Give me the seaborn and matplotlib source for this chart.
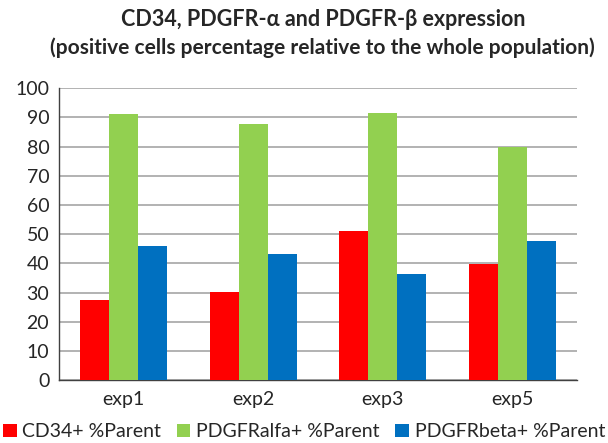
import numpy as np
import pandas as pd
import matplotlib
matplotlib.use("Agg")
import matplotlib.pyplot as plt
from matplotlib.patches import Patch
import seaborn as sns

experiments = ["exp1", "exp2", "exp3", "exp5"]
cd34 = [27.5, 30.3, 51.2, 39.9]
pdgfr_alfa = [91.0, 87.7, 91.6, 79.7]
pdgfr_beta = [46.0, 43.1, 36.4, 47.6]
series_names = ["CD34+ %Parent", "PDGFRalfa+ %Parent", "PDGFRbeta+ %Parent"]
series_colors = ["#FF0000", "#92D050", "#0070C0"]
y_ticks = list(range(0, 101, 10))

df = pd.DataFrame({
    "experiment": experiments * 3,
    "value": cd34 + pdgfr_alfa + pdgfr_beta,
    "series": [s for s in series_names for _ in experiments],
})

sns.set_style("white")
plt.rcParams["font.family"] = ["Lato", "DejaVu Sans"]

fig = plt.figure(figsize=(6.08, 4.43), dpi=100)
ax = fig.add_axes([0.097, 0.142, 0.852, 0.659])

sns.barplot(data=df, x="experiment", y="value", hue="series",
            palette=series_colors, width=0.67, saturation=1,
            linewidth=0, ax=ax, legend=False, zorder=3)

ax.set_ylim(0, 100)
ax.set_xlim(-0.5, len(experiments) - 0.5)
ax.set_yticks(y_ticks)
ax.set_yticklabels([str(t) for t in y_ticks], fontsize=14)
ax.yaxis.grid(True, color="#A6A6A6", linewidth=1.2, zorder=0)
ax.set_axisbelow(True)
ax.set_xlabel("")
ax.set_ylabel("")

for side in ["top", "right"]:
    ax.spines[side].set_visible(False)
for side in ["left", "bottom"]:
    ax.spines[side].set_color("#404040")
    ax.spines[side].set_linewidth(1.0)

# category labels centred, tick marks on the category boundaries
ax.set_xticks(np.arange(len(experiments)))
ax.set_xticklabels(experiments, fontsize=14)
ax.tick_params(axis="x", length=0, pad=8)
ax.set_xticks(np.arange(-0.5, len(experiments)), minor=True)
ax.tick_params(axis="x", which="minor", length=5, direction="out", color="#404040", width=1)
ax.tick_params(axis="y", length=5, direction="out", color="#404040", width=1, pad=2)

fig.text(0.531, 0.957, "CD34, PDGFR-\u03b1 and PDGFR-\u03b2 expression",
         ha="center", va="center", fontsize=15.5, fontweight="bold")
fig.text(0.531, 0.893, "(positive cells percentage relative to the whole population)",
         ha="center", va="center", fontsize=15, fontweight="bold")

handles = [Patch(facecolor=c, edgecolor="none", label=n)
           for c, n in zip(series_colors, series_names)]
fig.legend(handles=handles, loc="center", bbox_to_anchor=(0.5, 0.025),
           ncol=3, frameon=False, fontsize=14, handlelength=0.7, handleheight=0.7,
           handletextpad=0.3, columnspacing=0.8, borderaxespad=0)

fig.savefig("out.png", dpi=100)
